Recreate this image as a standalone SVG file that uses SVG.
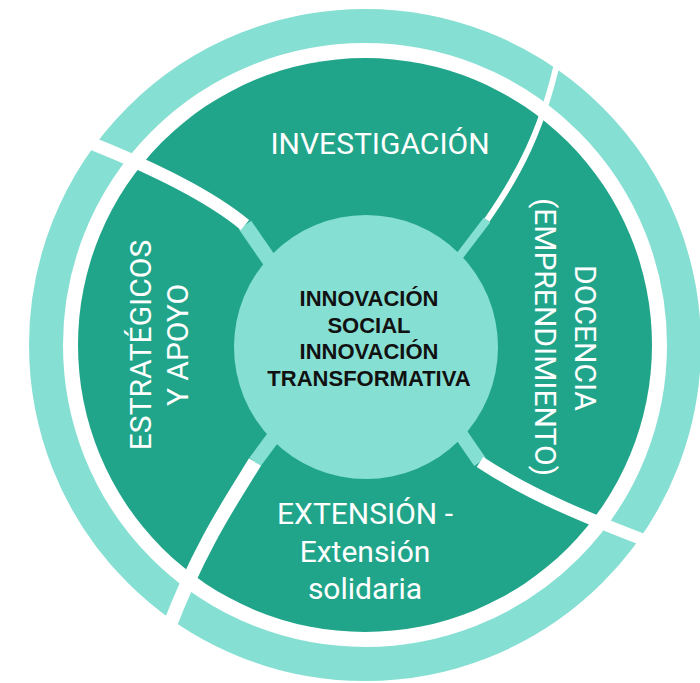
<svg xmlns="http://www.w3.org/2000/svg" width="700" height="683" viewBox="0 0 700 683">
<style>
.dark{fill:#21a58a}
.ring{fill:none;stroke:#86dfd3;stroke-width:34}
.lbl{font-family:Roboto,"Liberation Sans",sans-serif;font-size:30px;fill:#ffffff;text-anchor:middle}
.ctr{font-family:"Liberation Sans",Arial,sans-serif;font-size:22px;font-weight:bold;fill:#111111;text-anchor:middle}
.gap{fill:none;stroke:#ffffff;stroke-linecap:butt}
.patch{fill:none;stroke:#86dfd3;stroke-linecap:butt}
</style>
<defs>
<clipPath id="w-top"><path d="M365 345 L290 290 L245 225 C215 200 160 170 78 138 L30 104 L30 -100 L600 -100 L575 -20 L562 40 C545 130 515 180 487 220 L455 262 Z"/></clipPath>
<clipPath id="w-right"><path d="M365 345 L455 262 L487 220 C515 180 545 130 562 40 L575 -20 L800 -20 L800 640 L700 575 L665 548 C590 520 530 495 480 462 L458 430 Z"/></clipPath>
<clipPath id="w-bottom"><path d="M365 345 L458 430 L480 462 C530 495 590 520 665 548 L700 575 L800 800 L100 800 L155 665 L168 630 C200 545 235 495 255 462 L275 435 Z"/></clipPath>
<clipPath id="w-left"><path d="M365 345 L275 435 L255 462 C235 495 200 545 168 630 L155 665 L-100 665 L-100 104 L30 104 L78 138 C160 170 215 200 245 225 L290 290 Z"/></clipPath>
</defs>
<rect width="700" height="683" fill="#ffffff"/>
<g id="node-investigacion">
<circle class="dark" cx="365" cy="345" r="287" clip-path="url(#w-top)"/>
<circle class="ring" cx="365" cy="345" r="319" clip-path="url(#w-top)"/>
<text class="lbl" x="380" y="154">INVESTIGACIÓN</text>
</g>
<g id="node-docencia">
<circle class="dark" cx="365" cy="345" r="287" clip-path="url(#w-right)"/>
<circle class="ring" cx="365" cy="345" r="319" clip-path="url(#w-right)"/>
<text class="lbl" transform="translate(575,338) rotate(90)">DOCENCIA</text>
<text class="lbl" transform="translate(535,337) rotate(90)">(EMPRENDIMIENTO)</text>
</g>
<g id="node-extension">
<circle class="dark" cx="365" cy="345" r="287" clip-path="url(#w-bottom)"/>
<circle class="ring" cx="365" cy="345" r="319" clip-path="url(#w-bottom)"/>
<text class="lbl" x="365" y="524">EXTENSIÓN -</text>
<text class="lbl" x="365" y="562">Extensión</text>
<text class="lbl" x="365" y="599">solidaria</text>
</g>
<g id="node-estrategicos">
<circle class="dark" cx="365" cy="345" r="287" clip-path="url(#w-left)"/>
<circle class="ring" cx="365" cy="345" r="319" clip-path="url(#w-left)"/>
<text class="lbl" transform="translate(151,345) rotate(-90)">ESTRATÉGICOS</text>
<text class="lbl" transform="translate(188,345) rotate(-90)">Y APOYO</text>
</g>
<g id="connectors">
<path class="patch" stroke-width="15" d="M290 290 L245 225"/>
<path class="gap" stroke-width="13" d="M245 225 C215 200 160 170 78 138 L30 104"/>
<path class="patch" stroke-width="8" d="M455 262 L487 220"/>
<path class="gap" stroke-width="6" d="M487 220 C515 180 545 130 562 40 L575 -20"/>
<path class="patch" stroke-width="14" d="M275 435 L255 462"/>
<path class="gap" stroke-width="14" d="M255 462 C235 495 200 545 168 630 L155 665"/>
<path class="patch" stroke-width="14" d="M458 430 L480 462"/>
<path class="gap" stroke-width="12" d="M480 462 C530 495 590 520 665 548 L700 575"/>
</g>
<g id="node-center">
<circle cx="366" cy="347" r="132" fill="#86dfd3"/>
<text class="ctr" x="369" y="306">INNOVACIÓN</text>
<text class="ctr" x="369" y="333">SOCIAL</text>
<text class="ctr" x="369" y="359">INNOVACIÓN</text>
<text class="ctr" x="369" y="386">TRANSFORMATIVA</text>
</g>
</svg>
